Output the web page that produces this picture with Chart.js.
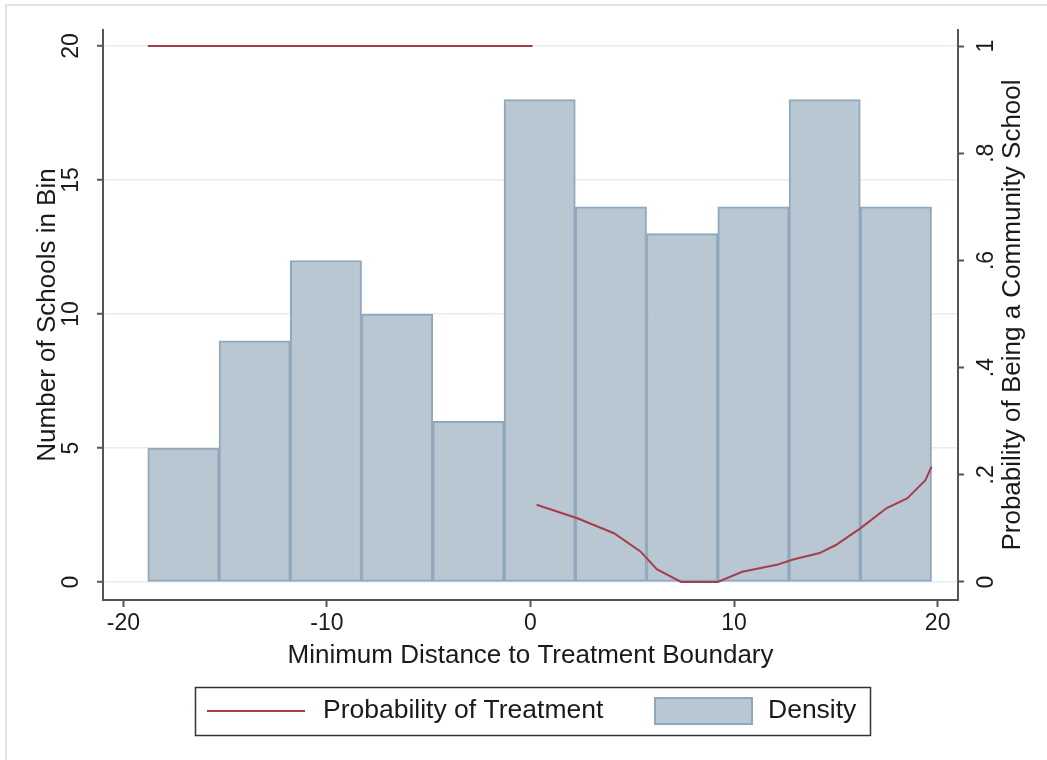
<!DOCTYPE html>
<html>
<head>
<meta charset="utf-8">
<script src="https://cdn.jsdelivr.net/npm/chart.js@4.4.1/dist/chart.umd.min.js"></script>
<style>
    html, body { margin: 0; padding: 0; background: #fff; }
    #wrap { position: relative; width: 1047px; height: 760px; }
</style>
</head>
<body>
<div id="wrap"><canvas id="chart" width="1047" height="760"></canvas></div>
<script>
// Histograma: centros de los bins y número de escuelas
const binCenters = [-17.05, -13.55, -10.05, -6.55, -3.05, 0.45, 3.95, 7.45, 10.95, 14.45, 17.95];
const schoolCounts = [5, 9, 12, 10, 6, 18, 14, 13, 14, 18, 14];

// Probabilidad de tratamiento (null corta la línea)
const distX = [-18.8, 0.1, 0.2, 0.3, 2.3, 4.1, 5.4, 6.2, 7.4, 9.2, 10.4, 12.1, 12.9, 14.2, 15.0, 16.2, 17.5, 18.5, 19.4, 19.7];
const probTreat = [1, 1, null, 0.144, 0.119, 0.091, 0.057, 0.024, 0, 0, 0.019, 0.032, 0.042, 0.054, 0.069, 0.100, 0.138, 0.156, 0.19, 0.215];

// Ticks
const xTicks = [-20, -10, 0, 10, 20];
const yTicks = [0, 5, 10, 15, 20];
const y2Ticks = [0, 0.2, 0.4, 0.6, 0.8, 1];
const y2Labels = ['0', '.2', '.4', '.6', '.8', '1'];

const FONT = "'Liberation Sans', Arial, sans-serif";
const TXT = '#1a1a1a';
const AXIS = '#555';
const LINE_COLOR = '#a33f4b';
const BAR_FILL = '#b9c7d3';
const BAR_BORDER = '#90a8bc';

const barData = binCenters.map((x, i) => ({ x: x, y: schoolCounts[i] }));
const lineData = distX.map((x, i) => ({ x: x, y: probTreat[i] }));

// Etiquetas rotadas, títulos y leyenda
const extras = {
    id: 'extras',
    beforeDraw(chart) {
        const ctx = chart.ctx;
        ctx.save();
        ctx.strokeStyle = '#e2e2e2';
        ctx.lineWidth = 2;
        ctx.beginPath();
        ctx.moveTo(6, 760);
        ctx.lineTo(6, 5);
        ctx.lineTo(1047, 5);
        ctx.stroke();
        ctx.restore();
    },
    afterDraw(chart) {
        const ctx = chart.ctx;
        const y = chart.scales.y;
        const y2 = chart.scales.y2;
        const area = chart.chartArea;
        ctx.save();
        ctx.fillStyle = TXT;
        ctx.textAlign = 'center';
        ctx.textBaseline = 'middle';

        // etiquetas eje izquierdo
        ctx.font = '23px ' + FONT;
        yTicks.forEach(v => {
            ctx.save();
            ctx.translate(72, y.getPixelForValue(v));
            ctx.rotate(-Math.PI / 2);
            ctx.fillText(String(v), 0, 0);
            ctx.restore();
        });
        // etiquetas eje derecho
        y2Ticks.forEach((v, i) => {
            ctx.save();
            ctx.translate(987, y2.getPixelForValue(v));
            ctx.rotate(-Math.PI / 2);
            ctx.fillText(y2Labels[i], 0, 0);
            ctx.restore();
        });

        ctx.font = '26px ' + FONT;
        const midY = (area.top + area.bottom) / 2;
        ctx.save();
        ctx.translate(48, midY);
        ctx.rotate(-Math.PI / 2);
        ctx.fillText('Number of Schools in Bin', 0, 0);
        ctx.restore();

        ctx.save();
        ctx.translate(1013, midY);
        ctx.rotate(-Math.PI / 2);
        ctx.fillText('Probability of Being a Community School', 0, 0);
        ctx.restore();

        ctx.fillText('Minimum Distance to Treatment Boundary', (area.left + area.right) / 2, 656);

        // leyenda
        ctx.strokeStyle = '#333';
        ctx.lineWidth = 1.5;
        ctx.strokeRect(195.5, 687.5, 675, 48);

        ctx.strokeStyle = LINE_COLOR;
        ctx.lineWidth = 2;
        ctx.beginPath();
        ctx.moveTo(207, 711);
        ctx.lineTo(305, 711);
        ctx.stroke();

        ctx.fillStyle = BAR_FILL;
        ctx.fillRect(655, 698, 97, 26);
        ctx.strokeStyle = BAR_BORDER;
        ctx.lineWidth = 2;
        ctx.strokeRect(655, 698, 97, 26);

        ctx.fillStyle = TXT;
        ctx.textAlign = 'left';
        ctx.font = '26.5px ' + FONT;
        ctx.fillText('Probability of Treatment', 323, 711);
        ctx.fillText('Density', 768, 711);
        ctx.restore();
    }
};

new Chart(document.getElementById('chart').getContext('2d'), {
    type: 'bar',
    data: {
        datasets: [
            {
                type: 'line',
                label: 'Probability of Treatment',
                data: lineData,
                yAxisID: 'y2',
                borderColor: LINE_COLOR,
                borderWidth: 2,
                pointRadius: 0,
                tension: 0,
                spanGaps: false,
                order: 0
            },
            {
                type: 'bar',
                label: 'Density',
                data: barData,
                yAxisID: 'y',
                backgroundColor: BAR_FILL,
                borderColor: BAR_BORDER,
                borderWidth: 2,
                borderSkipped: false,
                barPercentage: 1,
                categoryPercentage: 1,
                order: 1
            }
        ]
    },
    options: {
        responsive: false,
        animation: false,
        layout: { padding: { top: 30, left: 0, right: 0, bottom: 0 } },
        plugins: {
            legend: { display: false },
            tooltip: { enabled: false }
        },
        scales: {
            x: {
                type: 'linear',
                min: -21,
                max: 21,
                offset: false,
                afterBuildTicks: s => { s.ticks = xTicks.map(v => ({ value: v })); },
                afterFit: s => { s.height = 160; },
                grid: { offset: false, drawOnChartArea: false, tickLength: 7, tickColor: AXIS, tickWidth: 2 },
                border: { color: AXIS, width: 2 },
                ticks: { color: TXT, font: { family: FONT, size: 23 }, padding: 3, maxRotation: 0 }
            },
            y: {
                position: 'left',
                min: -0.67,
                max: 20.6,
                afterBuildTicks: s => { s.ticks = yTicks.map(v => ({ value: v })); },
                afterFit: s => { s.width = 103; },
                grid: { color: '#e6eef2', lineWidth: 1.5, tickLength: 6, tickColor: AXIS, tickWidth: 2 },
                border: { color: AXIS, width: 2 },
                ticks: { display: false }
            },
            y2: {
                position: 'right',
                min: -0.0336,
                max: 1.03,
                afterBuildTicks: s => { s.ticks = y2Ticks.map(v => ({ value: v })); },
                afterFit: s => { s.width = 89; },
                grid: { drawOnChartArea: false, tickLength: 6, tickColor: AXIS, tickWidth: 2 },
                border: { color: AXIS, width: 2 },
                ticks: { display: false }
            }
        }
    },
    plugins: [extras]
});
</script>
</body>
</html>
